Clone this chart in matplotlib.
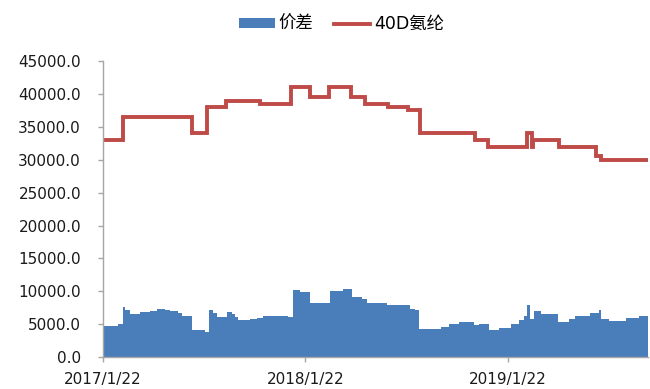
import numpy as np
import pandas as pd
import matplotlib
matplotlib.use("Agg")
import matplotlib.pyplot as plt
from matplotlib.patches import Patch
from matplotlib.lines import Line2D

plt.rcParams['font.family'] = ['DejaVu Sans', 'Noto Sans CJK SC']

# ---------------------------------------------------------------------------
# Data (step changes)
# ---------------------------------------------------------------------------
spandex_dates = ["2017-01-22", "2017-02-27", "2017-07-01", "2017-07-28", "2017-09-01",
                 "2017-11-01", "2017-12-27", "2018-01-30", "2018-03-05", "2018-04-14",
                 "2018-05-09", "2018-06-20", "2018-07-26", "2018-08-16", "2018-11-24",
                 "2018-12-17", "2019-02-25", "2019-03-06", "2019-03-08", "2019-04-24",
                 "2019-06-30", "2019-07-09", "2019-10-01"]
spandex_price = [33000, 36500, 34000, 38000, 39000,
                 38500, 41000, 39500, 41000, 39500,
                 38500, 38000, 37500, 34000, 33000,
                 32000, 34000, 32000, 33000, 32000,
                 30500, 30000, 30000]

spread_dates = ["2017-01-22", "2017-02-18", "2017-02-27", "2017-03-04", "2017-03-12",
                "2017-03-30", "2017-04-17", "2017-04-29", "2017-05-14", "2017-05-23",
                "2017-06-06", "2017-06-13", "2017-07-01", "2017-07-25", "2017-08-01",
                "2017-08-08", "2017-08-15", "2017-09-03", "2017-09-11", "2017-09-17",
                "2017-09-22", "2017-10-14", "2017-10-27", "2017-11-06", "2017-12-21",
                "2017-12-30", "2018-01-12", "2018-01-30", "2018-03-07", "2018-03-31",
                "2018-04-16", "2018-05-04", "2018-05-13", "2018-06-18", "2018-07-29",
                "2018-08-07", "2018-08-15", "2018-09-23", "2018-10-07", "2018-10-26",
                "2018-11-22", "2018-12-01", "2018-12-19", "2019-01-06", "2019-01-27",
                "2019-02-11", "2019-02-20", "2019-02-25", "2019-03-03", "2019-03-09",
                "2019-03-23", "2019-04-21", "2019-05-11", "2019-05-23", "2019-06-19",
                "2019-07-04", "2019-07-09", "2019-07-22", "2019-08-22", "2019-09-14",
                "2019-10-01"]
spread = [4800, 5000, 7650, 7230, 6600,
          6800, 7000, 7340, 7200, 7000,
          6700, 6200, 4050, 3800, 7130,
          6700, 6150, 6880, 6500, 6050,
          5700, 5800, 5900, 6200, 6050,
          10200, 9900, 8260, 10000, 10400,
          9130, 8800, 8260, 7850, 7340,
          7130, 4310, 4620, 5000, 5380,
          4820, 5080, 4100, 4460, 5000,
          5690, 6300, 7850, 5800, 6980,
          6560, 5380, 5800, 6300, 6670,
          7130, 5800, 5540, 5900, 6300,
          6300]

tick_dates = ["2017-01-22", "2018-01-22", "2019-01-22"]
tick_labels = ["2017/1/22", "2018/1/22", "2019/1/22"]
y_ticks = np.arange(0, 45001, 5000)

blue = "#4a7ebb"
red = "#be4b48"
gray = "#a6a6a6"

# ---------------------------------------------------------------------------
# Plot
# ---------------------------------------------------------------------------
fig = plt.figure(figsize=(6.5, 3.89), dpi=100)
ax = fig.add_axes([0.158, 0.082, 0.839, 0.761])

sd = pd.to_datetime(spread_dates)
pd_ = pd.to_datetime(spandex_dates)

ax.fill_between(sd, 0, spread, step="post", color=blue, linewidth=0)
ax.plot(pd_, spandex_price, drawstyle="steps-post", color=red, lw=2.8,
        solid_joinstyle="miter")

ax.set_xlim(pd.Timestamp("2017-01-22"), pd.Timestamp("2019-10-01"))
ax.set_ylim(0, 45000)
ax.set_yticks(y_ticks)
ax.set_yticklabels([f"{v:.1f}" for v in y_ticks])
ax.set_xticks(pd.to_datetime(tick_dates))
ax.set_xticklabels(tick_labels)

for s in ["top", "right"]:
    ax.spines[s].set_visible(False)
for s in ["left", "bottom"]:
    ax.spines[s].set_color(gray)
    ax.spines[s].set_linewidth(1.0)
ax.tick_params(axis="both", colors=gray, labelcolor="#1a1a1a", labelsize=11,
               length=3.6, width=1.0)
ax.tick_params(axis="y", pad=12)
ax.tick_params(axis="x", pad=7)

handles = [Patch(facecolor=blue, edgecolor="none"),
           Line2D([0], [0], color=red, lw=2.8)]
fig.legend(handles, ["价差", "40D氨纶"], loc="center", ncol=2,
           bbox_to_anchor=(0.525, 0.938), frameon=False, fontsize=12.5,
           handlelength=2.1, handleheight=0.5, columnspacing=1.2,
           handletextpad=0.2)

fig.savefig("out.png", dpi=100)
